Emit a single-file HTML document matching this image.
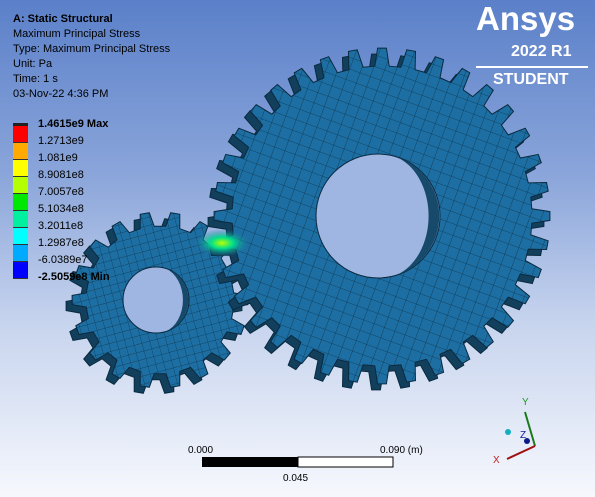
<!DOCTYPE html>
<html><head><meta charset="utf-8"><style>
html,body{margin:0;padding:0}
body{width:595px;height:497px;overflow:hidden;position:relative;font-family:"Liberation Sans",sans-serif;
background:linear-gradient(180deg,#5b80c9 0%,#8aa5da 35%,#c7d4ee 65%,#f6f8fd 100%);}
.t{position:absolute;left:13px;font-size:11px;color:#000;white-space:nowrap}
.lg{position:absolute;left:38px;font-size:11px;color:#000;white-space:nowrap}
</style></head><body>
<svg id="scene" width="595" height="497" style="position:absolute;left:0;top:0">
<defs>
<pattern id="mesh" width="11" height="11" patternUnits="userSpaceOnUse" patternTransform="rotate(20)">
<rect width="11" height="11" fill="#1d6fa3"/><path d="M0 0H11M0 0V11" stroke="#0d3650" stroke-width="0.8"/></pattern>
<pattern id="mesh2" width="8" height="8" patternUnits="userSpaceOnUse" patternTransform="rotate(-15)">
<rect width="8" height="8" fill="#1d6fa3"/><path d="M0 0H8M0 0V8" stroke="#0d3650" stroke-width="0.7"/></pattern>
<radialGradient id="hot" cx="0.5" cy="0.5" r="0.5"><stop offset="0" stop-color="#b8ff00"/><stop offset="0.4" stop-color="#00e08a"/><stop offset="1" stop-color="#1d6fa3" stop-opacity="0"/></radialGradient>
</defs>
<g id="gears"></g>
<ellipse cx="222" cy="243" rx="28" ry="14" fill="url(#hot)"/>
<!-- scale bar -->
<rect x="202" y="457" width="96" height="10" fill="#000"/>
<rect x="298" y="457" width="95" height="10" fill="#fff" stroke="#000" stroke-width="1"/>
<text x="188" y="453" font-size="10" font-family="Liberation Sans">0.000</text>
<text x="380" y="453" font-size="10" font-family="Liberation Sans">0.090 (m)</text>
<text x="283" y="481" font-size="10" font-family="Liberation Sans">0.045</text>
<!-- triad -->
<g>
<line x1="535" y1="446" x2="525" y2="412" stroke="#1a7a1a" stroke-width="2"/>
<line x1="535" y1="446" x2="507" y2="459" stroke="#a01010" stroke-width="2"/>
<circle cx="527" cy="441" r="3" fill="#0a1a8a"/>
<circle cx="508" cy="432" r="3" fill="#10b0c0"/>
<text x="522" y="405" font-size="10" fill="#1a9a1a">Y</text>
<text x="520" y="438" font-size="10" fill="#1020a0">Z</text>
<text x="493" y="463" font-size="10" fill="#c02020">X</text>
</g>
</svg>
<div class="t" style="top:13px;font-weight:bold">A: Static Structural</div>
<div class="t" style="top:28px">Maximum Principal Stress</div>
<div class="t" style="top:43px">Type: Maximum Principal Stress</div>
<div class="t" style="top:58px">Unit: Pa</div>
<div class="t" style="top:73px">Time: 1 s</div>
<div class="t" style="top:88px">03-Nov-22 4:36 PM</div>
<div id="legend"></div>
<div style="position:absolute;left:476px;top:0px;color:#fff;font-weight:bold;font-size:33px">Ansys</div>
<div style="position:absolute;left:511px;top:43px;color:#fff;font-weight:bold;font-size:16px">2022 R1</div>
<div style="position:absolute;left:476px;top:66px;width:112px;height:2px;background:#fff"></div>
<div style="position:absolute;left:493px;top:71px;color:#fff;font-weight:bold;font-size:16px">STUDENT</div>
<script>
const legendLabels=["1.4615e9 Max","1.2713e9","1.081e9","8.9081e8","7.0057e8","5.1034e8","3.2011e8","1.2987e8","-6.0389e7","-2.5059e8 Min"];
const legendColors=["#ff0000","#ffaa00","#ffff00","#b4ff00","#00e800","#00f0a0","#00ffff","#00aaff","#0000ff"];
const gearCenters=[[160,300],[382,216]];
const gearSpecs=[[88,74,18,33],[168,150,36,62]];
const L=document.getElementById('legend');
const top0=126,seg=17;
legendColors.forEach((c,i)=>{const d=document.createElement('div');


d.style.cssText=`position:absolute;left:13px;top:${top0+i*seg}px;width:15px;height:${seg}px;background:${c};border-bottom:1px solid #333;box-sizing:border-box`;L.appendChild(d);});
const cap=document.createElement('div');cap.style.cssText='position:absolute;left:13px;top:123px;width:15px;height:3px;background:#222';L.appendChild(cap);
legendLabels.forEach((t,i)=>{const d=document.createElement('div');


d.className='lg';d.textContent=t;d.style.top=(top0-8+i*seg)+'px';
if(i==0||i==legendLabels.length-1)d.style.fontWeight='bold';L.appendChild(d);});
const NS='http://www.w3.org/2000/svg';const G=document.getElementById('gears');
function gearPath(cx,cy,ro,ri,n,dx,dy){let p='';for(let k=0;k<n;k++){const a=k*2*Math.PI/n,w=Math.PI/n;
const pts=[[ri,a-w*0.55],[ro,a-w*0.3],[ro,a+w*0.3],[ri,a+w*0.55]];
pts.forEach((q,j)=>{p+=(k==0&&j==0?'M':'L')+(cx+dx+q[0]*Math.cos(q[1])).toFixed(1)+' '+(cy+dy+q[0]*Math.sin(q[1])).toFixed(1);});}
return p+'Z';}
gearSpecs.forEach((s,i)=>{const [cx,cy]=gearCenters[i];
const back=document.createElementNS(NS,'path');back.setAttribute('d',gearPath(cx,cy,s[0],s[1],s[2],-6,6));back.setAttribute('fill','#123f5c');back.setAttribute('stroke','#0a2a40');

G.appendChild(back);
const f=document.createElementNS(NS,'path');f.setAttribute('d',gearPath(cx,cy,s[0],s[1],s[2],0,0));f.setAttribute('fill',i?'url(#mesh)':'url(#mesh2)');f.setAttribute('stroke','#0a2a40');

G.appendChild(f);
const h=document.createElementNS(NS,'circle');h.setAttribute('cx',cx-4);h.setAttribute('cy',cy);h.setAttribute('r',s[3]);h.setAttribute('fill','#9fb6e2');h.setAttribute('stroke','#0a2a40');

G.appendChild(h);
const hs=document.createElementNS(NS,'path');const r=s[3];
hs.setAttribute('d',`M${cx-4+r*0.3} ${cy-r*0.95} A${r} ${r} 0 0 1 ${cx-4+r*0.3} ${cy+r*0.95} A${r*0.75} ${r} 0 0 0 ${cx-4+r*0.3} ${cy-r*0.95}Z`);
hs.setAttribute('fill','#174a6a');

G.appendChild(hs);});
</script>
</body></html>
